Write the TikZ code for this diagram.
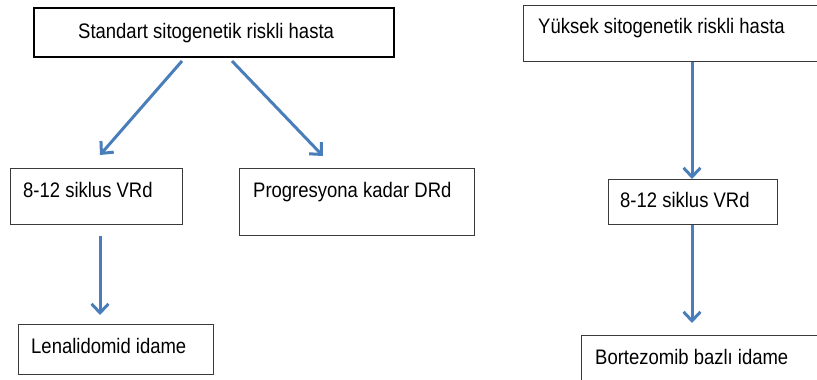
\documentclass[tikz,border=0pt]{standalone}
\usepackage{fontspec}
\setmainfont[FakeStretch=0.88]{Liberation Sans}
\usepackage{tikz}
\usetikzlibrary{arrows.meta}
\definecolor{arrblue}{HTML}{4A7EBB}
\definecolor{boxgray}{HTML}{3A3A3A}
\tikzset{
	box/.style={draw=boxgray, line width=1.2pt, inner sep=0pt, anchor=north west},
	txt/.style={anchor=base west, inner sep=0pt, font=\fontsize{21}{24}\selectfont},
	arr/.style={draw=arrblue, line width=3pt, -{Straight Barb[length=9pt, width=17pt]}}
}

\begin{document}
\begin{tikzpicture}[x=1pt, y=-1pt]
			\clip (0,0) rectangle (817,380);
			\fill[white] (0,0) rectangle (817,380);
			% standart risk
			\node[box, draw=black, line width=2pt, minimum width=360pt, minimum height=49pt] (std) at (33,7) {};
			\node[box, minimum width=172pt, minimum height=56pt] (vrdA) at (10,168) {};
			\node[box, minimum width=235pt, minimum height=67pt] (prog) at (239,168) {};
			\node[box, minimum width=195pt, minimum height=50pt] (lena) at (18,324) {};
			\node[txt] (stdtxt) at (78,38) {Standart sitogenetik riskli hasta};
			\node[txt] (vrdAtxt) at (23,197) {8-12 siklus VRd};
			\node[txt] (progtxt) at (253,197) {Progresyona kadar DRd};
			\node[txt] (lenatxt) at (31,353) {Lenalidomid idame};
			\draw[arr] ([shift={(149,3)}]std.south west) -- ([shift={(90,-13)}]vrdA.north west);
			\draw[arr] ([shift={(199,3)}]std.south west) -- ([shift={(84,-12)}]prog.north west);
			\draw[arr] ([shift={(90,11)}]vrdA.south west) -- ([shift={(82,-9)}]lena.north west);
			% yuksek risk
			\node[box, minimum width=320pt, minimum height=56pt] (yuk) at (523,5) {};
			\node[box, minimum width=169pt, minimum height=45pt] (vrdB) at (608,179) {};
			\node[box, minimum width=260pt, minimum height=60pt] (bort) at (581,335) {};
			\node[txt] (yuktxt) at (538,33) {Yüksek sitogenetik riskli hasta};
			\node[txt] (vrdBtxt) at (620,207) {8-12 siklus VRd};
			\node[txt] (borttxt) at (595,364) {Bortezomib bazlı idame};
			\draw[arr] ([shift={(169,0)}]yuk.south west) -- ([shift={(84,0)}]vrdB.north west);
			\draw[arr] ([shift={(84,0)}]vrdB.south west) -- ([shift={(111,-12)}]bort.north west);
	\end{tikzpicture}
\end{document}
